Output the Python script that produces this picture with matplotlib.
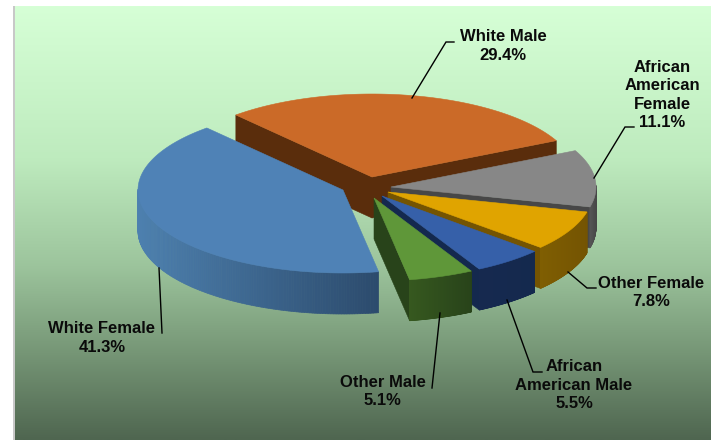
import numpy as np
import matplotlib
matplotlib.use("Agg")
import matplotlib.pyplot as plt
from matplotlib.colors import LinearSegmentedColormap, to_rgb
from matplotlib.patches import Polygon, Rectangle

# ---- data (clockwise order, starting at the White Female slice)
categories = ["White Female", "White Male", "African American Female",
              "Other Female", "African American Male", "Other Male"]
values = [41.3, 29.4, 11.1, 7.8, 5.5, 5.1]
labels = ["White Female\n41.3%", "White Male\n29.4%", "African\nAmerican\nFemale\n11.1%",
          "Other Female\n7.8%", "African\nAmerican Male\n5.5%", "Other Male\n5.1%"]

# ---- style / layout
top_colors = ["#4F82B6", "#CB6A28", "#878787", "#E0A400", "#3660A9", "#5F9739"]
side_light = ["#4D80AF", "#5A2D0C", "#555555", "#7F5E02", "#16294F", "#36581F"]
side_dark = ["#2C4B6D", "#5A2D0C", "#474747", "#745402", "#14294E", "#28431A"]
apexes = [(343, 190), (372, 177), (391, 187), (388, 192), (382, 196), (374, 198)]
draw_order = [1, 2, 3, 4, 5, 0]
start_angle = 170.0
rx, ry, depth = 205.0, 83.0, 41.0
leaders = [[(159, 268), (162, 333)],
           [(412, 98), (446, 42), (454, 42)],
           [(594, 178), (625, 127), (634, 127)],
           [(568, 272), (587, 288), (596, 288)],
           [(507, 300), (533, 372), (542, 372)],
           [(440, 313), (432, 388)]]
label_pos = [(102, 338), (503, 46), (662, 95), (651, 292.5), (574, 385), (382.5, 391.5)]

fig = plt.figure(figsize=(7.11, 4.40), dpi=100, facecolor="white")
ax = fig.add_axes([0, 0, 1, 1])
ax.set_xlim(0, 711)
ax.set_ylim(440, 0)
ax.axis("off")

# background gradient panel
cmap = LinearSegmentedColormap.from_list(
    "bg", [(0, "#D6FFD6"), (0.35, "#BEEBBE"), (0.6, "#9CC49C"), (0.8, "#769676"), (1, "#4F6650")])
ax.imshow(np.linspace(0, 1, 256)[:, None], cmap=cmap, aspect="auto",
          extent=(15, 711, 440, 6), zorder=0)
ax.set_xlim(0, 711)
ax.set_ylim(440, 0)
ax.add_patch(Rectangle((13, 6), 2, 434, fc="#C8C8C8", ec="none", zorder=0.5))


def rim(cx, cy, th):
    r = np.radians(th)
    return cx + rx * np.sin(r), cy - ry * np.cos(r)


edges = start_angle + np.concatenate([[0], np.cumsum(values)]) * 360.0 / sum(values)
z = 1
for i in draw_order:
    t0, t1 = edges[i], edges[i + 1]
    cx, cy = apexes[i]
    ths = np.linspace(t0, t1, 200)
    xs, ys = rim(cx, cy, ths)
    # cut faces that turn toward the viewer
    for t, visible in ((t0, np.sin(np.radians(t0)) < 0), (t1, np.sin(np.radians(t1)) > 0)):
        if visible:
            px, py = rim(cx, cy, t)
            ax.add_patch(Polygon([(cx, cy), (px, py), (px, py + depth), (cx, cy + depth)],
                                 fc=side_dark[i], ec=side_dark[i], lw=0.4, zorder=z))
    # outer side, in shaded strips
    vis = np.cos(np.radians(ths)) < 0.02
    idx = np.where(vis)[0]
    if len(idx) > 1:
        c0, c1 = np.array(to_rgb(side_light[i])), np.array(to_rgb(side_dark[i]))
        for a, b in zip(idx[:-1], idx[1:]):
            f = (xs[a] - xs[idx].min()) / max(xs[idx].max() - xs[idx].min(), 1)
            col = c0 + (c1 - c0) * f
            ax.add_patch(Polygon([(xs[a], ys[a]), (xs[b], ys[b]),
                                  (xs[b], ys[b] + depth), (xs[a], ys[a] + depth)],
                                 fc=col, ec=col, lw=0.5, zorder=z))
    # top
    ax.add_patch(Polygon(np.column_stack([np.r_[cx, xs], np.r_[cy, ys]]),
                         fc=top_colors[i], ec=top_colors[i], lw=0.4, zorder=z + 0.1))
    z += 1

for pts in leaders:
    p = np.array(pts)
    ax.plot(p[:, 0], p[:, 1], color="black", lw=1.0, zorder=20, solid_joinstyle="miter")

for txt, (x, y) in zip(labels, label_pos):
    ax.text(x, y, txt, ha="center", va="center", family="Liberation Sans",
            weight="bold", fontsize=12, linespacing=1.3, color="#0A0A0A", zorder=21)

fig.savefig("out.png", dpi=100)
